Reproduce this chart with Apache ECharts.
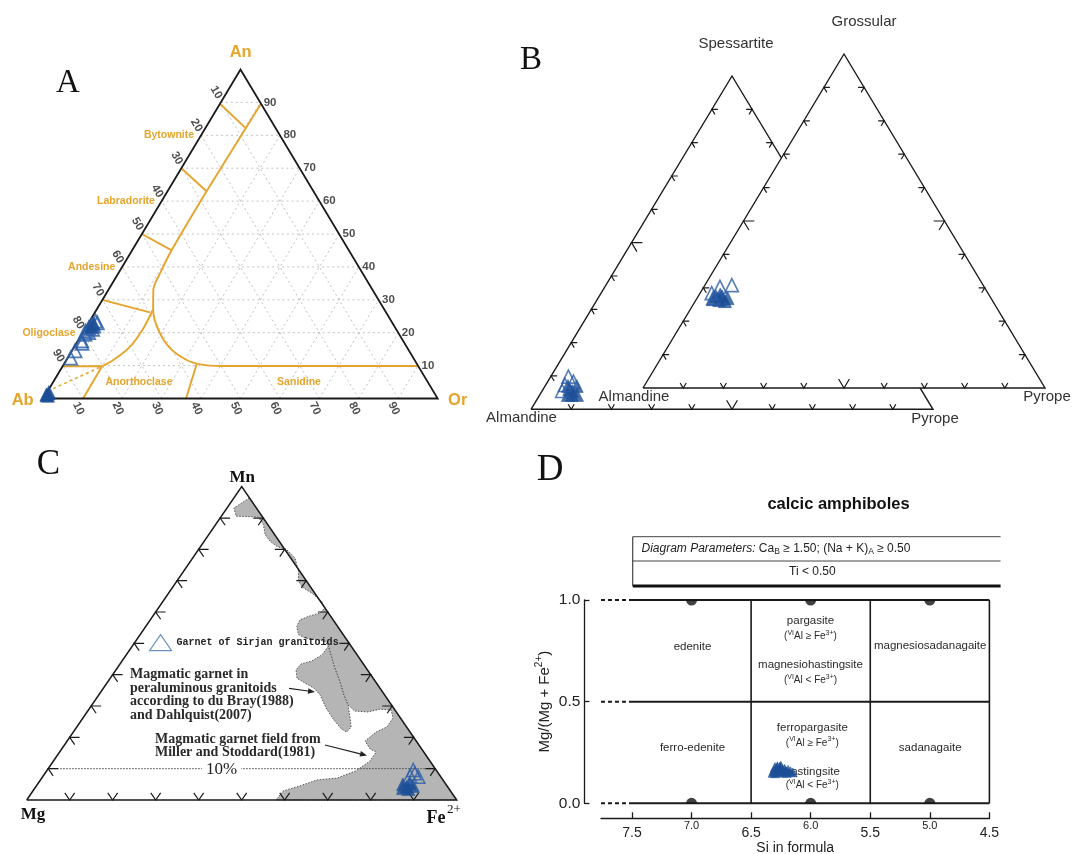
<!DOCTYPE html>
<html>
<head>
<meta charset="utf-8">
<title>Feldspar, garnet and amphibole classification diagrams</title>
<script src="https://cdn.jsdelivr.net/npm/echarts@6.0.0/dist/echarts.min.js"></script>
<style>
html, body { margin: 0; padding: 0; background: #ffffff; }
#chart { width: 1072px; height: 854px; }
</style>
</head>
<body>
<div id="chart"></div>
<script>
// ---------------- data ----------------
// Ternary points are stored as [top, right] in percent; left = 100 - top - right.
const tickPercents = [10, 20, 30, 40, 50, 60, 70, 80, 90];

// A. Feldspar An-Ab-Or, points as [An, Or]
const feldsparOpen = [[23.5, 1.5], [23.0, 2.2], [22.5, 1.0], [22.0, 1.8], [21.5, 0.8], [21.0, 2.0],
  [20.5, 0.5], [20.0, 1.5], [19.5, 0.8], [17.5, 1.0], [16.8, 1.4], [14.5, 0.8], [12.3, 0.8]];
const feldsparFilled = [[1.0, 0.3], [1.5, 0.6], [0.8, 0.8], [2.0, 0.4], [1.2, 0.2], [22.8, 1.4], [21.8, 1.2]];
// feldspar field boundaries, [An, Or]
const feldsparSolvus = [[89.5, 10.4], [63, 9.9], [45, 10.0], [39, 10.5], [33, 11.4], [26.9, 14.4],
  [20.8, 18.8], [15.3, 24.5], [11.7, 30.5], [10.3, 35], [9.9, 40], [9.9, 90.1]];
const anorthoclaseCurve = [[26.9, 14.3], [21.3, 14.7], [15.7, 14.1], [11.7, 11.9], [9.8, 10.0]];
const feldsparLines = [
  [[89.6, 0], [82.4, 9.9]],
  [[70, 0], [62.9, 10]],
  [[50, 0], [45.1, 9.9]],
  [[30, 0], [26.2, 13.9]],
  [[9.8, 0], [9.8, 10]],
  [[9.8, 10], [0, 10.1]],
  [[10.7, 33.6], [0, 36.2]]
];
const feldsparTieLine = [[3, 1], [9.8, 10]];

// B. Garnet end-members (mol %)
// Almandine-Spessartite-Pyrope, points as [Sps, Prp]
const garnetSpsOpen = [[9.8, 4.4], [7.3, 4.8], [8.3, 6.4], [5.5, 5.0]];
const garnetSpsFilled = [[7.0, 5.7], [7.0, 7.9], [5.5, 7.5], [4.3, 7.0], [4.3, 9.3], [4.3, 8.0], [6.0, 6.5]];
// Almandine-Grossular-Pyrope, points as [Grs, Prp]
const garnetGrsOpen = [[30.8, 6.7], [30.3, 4.0], [28.4, 2.9], [26.9, 4.0]];
const garnetGrsFilled = [[27.5, 4.4], [27.5, 5.9], [26.9, 7.6], [26.3, 5.8], [26.0, 7.4], [26.6, 4.1], [28.0, 5.2]];

// C. Mn-Mg-Fe2+, points as [Mn, Fe]
const garnetMnOpen = [[9.6, 85.1], [7.4, 87.4], [7.7, 85.3], [8.5, 86.0]];
const garnetMnFilled = [[5.4, 86.4], [4.2, 86.3], [4.5, 87.6], [3.8, 85.6], [5.0, 85.0], [3.5, 87.0]];
const millerStoddardField = [[96.4, 3.6], [93.2, 1.6], [90.6, 3.4], [90.3, 8.7], [87.9, 11.1], [84.7, 13.1],
  [82.6, 15.3], [81.0, 17.6], [79.9, 20.5], [77.2, 23.8], [73.0, 26.7], [69.8, 28.3], [67.7, 30.5],
  [66.1, 33.2], [63.4, 36.9], [61.3, 38.7], [59.7, 38.4], [58.6, 36.2], [57.5, 34.8], [55.4, 35.1],
  [52.8, 36.8], [51.7, 38.9], [51.2, 41.8], [50.7, 44.0], [49.1, 45.6], [46.3, 47.6], [42.1, 50.6],
  [37.7, 54.0], [33.5, 57.0], [30.3, 59.6], [28.4, 62.1], [28.1, 65.3], [29.0, 67.7], [28.7, 70.4],
  [26.2, 72.1], [23.3, 72.1], [21.7, 70.4], [18.8, 69.3], [16.3, 71.7], [15.3, 73.6], [12.4, 73.6],
  [9.3, 71.9], [7.0, 68.7], [6.4, 64.3], [4.5, 61.3], [2.9, 58.2], [0, 58.0], [0, 100]];
const duBrayField = [[49.1, 45.6], [46.3, 45.5], [44.4, 44.1], [43.4, 42.1], [41.5, 41.9], [38.9, 43.4],
  [37.3, 46.1], [35.7, 49.0], [33.5, 51.5], [29.4, 54.9], [25.9, 58.3], [22.7, 61.8], [21.7, 63.6],
  [23.3, 63.8], [26.2, 62.1], [30.3, 59.6], [33.5, 57.0], [37.7, 54.0], [42.1, 50.6], [46.3, 47.6]];
const mnReferenceLevel = 10;

// D. Calcic amphiboles: Si (apfu) and Mg/(Mg + Fe2+)
const amphSi = [6.32, 6.31, 6.29, 6.28, 6.26, 6.25, 6.24, 6.22, 6.21, 6.19, 6.17, 6.15, 6.27, 6.23, 6.20, 6.30, 6.25, 6.26, 6.28, 6.30];
const amphMgNo = [0.150, 0.160, 0.165, 0.175, 0.180, 0.172, 0.165, 0.170, 0.160, 0.165, 0.158, 0.152, 0.155, 0.150, 0.150, 0.148, 0.185, 0.160, 0.182, 0.178];
const siTicks = [4.5, 5.0, 5.5, 6.0, 6.5, 7.0, 7.5];
const siBoundaries = [6.5, 5.5, 4.5];
const mgBoundaries = [0, 0.5, 1];
const siPlotStart = 7.5;
const siAxisEnd = 7.76;
const endMemberSi = [7.0, 6.0, 5.0];

// ---------------- helpers ----------------
const FONT_SANS = '"Liberation Sans", Arial, Helvetica, sans-serif';
const FONT_SERIF = '"Liberation Serif", "Times New Roman", serif';
const FONT_MONO = '"Liberation Mono", "Courier New", monospace';
const ORANGE = '#e5a52d';
const BLUE = '#1c4f96';
const BLUE_OPEN = '#2a5ca6';
const INK = '#1a1a1a';

// [top, right] percent -> plot x/y (x = right + top / 2, y = top)
const tern = p => [p[1] + p[0] / 2, p[0]];
const CORNERS = [[0, 0], [100, 0], [0, 100], [0, 0]].map(tern);

function segSeries(gi, segs, lineStyle, z) {
  return { type: 'lines', coordinateSystem: 'cartesian2d', xAxisIndex: gi, yAxisIndex: gi,
    polyline: true, silent: true, clip: false, z: z,
    lineStyle: Object.assign({ opacity: 1, curveness: 0 }, lineStyle),
    data: segs.map(s => ({ coords: s })) };
}
function curveSeries(gi, pts, lineStyle, z) {
  return { type: 'line', xAxisIndex: gi, yAxisIndex: gi, data: pts, smooth: 0.3, symbol: 'none',
    silent: true, clip: false, z: z, lineStyle: Object.assign({ opacity: 1 }, lineStyle) };
}
function markerSeries(gi, pts, opts) {
  return Object.assign({ type: 'scatter', xAxisIndex: gi, yAxisIndex: gi, data: pts, symbol: 'triangle',
    silent: true, clip: false }, opts);
}
function polySeries(gi, pts, style, z) {
  return { type: 'custom', coordinateSystem: 'cartesian2d', xAxisIndex: gi, yAxisIndex: gi,
    silent: true, clip: false, z: z, data: [[50, 50]],
    renderItem: (params, api) => ({ type: 'polygon', shape: { points: pts.map(p => api.coord(p)) }, style: style }) };
}
// short grid-line stubs at every tick on the three edges of a ternary frame
function chevronTicks(len, bigLen) {
  const segs = [];
  tickPercents.forEach(f => {
    const d = f === 50 ? bigLen : len;
    segs.push([[f, d], [f, 0], [f - d, d]].map(tern));
    segs.push([[f, 100 - f - d], [f, 100 - f], [f - d, 100 - f]].map(tern));
    segs.push([[d, f - d], [0, f], [d, f]].map(tern));
  });
  return segs;
}
const openStyle = (size, w) => ({ symbolSize: size, itemStyle: { color: 'rgba(255,255,255,0)', borderColor: BLUE_OPEN, borderWidth: w } });
const filledStyle = size => ({ symbolSize: size, itemStyle: { color: BLUE, borderColor: BLUE, borderWidth: 0.6 } });

// ---------------- layout ----------------
const gridBoxes = [
  { left: 43.3, top: 69.5, width: 394.4, height: 329 },     // A
  { left: 531, top: 76, width: 402, height: 333.3 },        // B, Alm-Sps-Prp
  { left: 643, top: 54, width: 402, height: 334 },          // B, Alm-Grs-Prp
  { left: 26.7, top: 486.7, width: 430, height: 313.3 },    // C
  { left: 601, top: 600, width: 388.4, height: 203.3 }      // D
];
const ternAxis = i => ({ gridIndex: i, type: 'value', min: 0, max: 100, show: false });

// ---------------- A ----------------
const feldsparGrid = [];
tickPercents.forEach(c => {
  feldsparGrid.push([[c, 0], [c, 100 - c]].map(tern));
  feldsparGrid.push([[0, c], [100 - c, c]].map(tern));
  feldsparGrid.push([[0, 100 - c], [100 - c, 0]].map(tern));
});
const tickLabelStyle = { show: true, fontSize: 11.5, fontWeight: 'bold', color: '#222', fontFamily: FONT_SANS };
const seriesA = [
  segSeries(0, feldsparGrid, { color: '#c2c2c2', width: 1, type: [2, 3] }, 1),
  segSeries(0, feldsparLines.map(s => s.map(tern)), { color: ORANGE, width: 1.9 }, 2),
  curveSeries(0, feldsparSolvus.map(tern), { color: ORANGE, width: 1.9 }, 2),
  curveSeries(0, anorthoclaseCurve.map(tern), { color: ORANGE, width: 1.9 }, 2),
  segSeries(0, [feldsparTieLine.map(tern)], { color: ORANGE, width: 1.6, type: [3, 3] }, 2),
  segSeries(0, [CORNERS], { color: INK, width: 1.8 }, 3),
  markerSeries(0, feldsparOpen.map(tern), Object.assign({ z: 4 }, openStyle(13, 1.8))),
  markerSeries(0, feldsparFilled.map(tern), Object.assign({ z: 4 }, filledStyle(13))),
  // Ab % along the An-Ab edge (offset is given in the rotated label frame)
  { type: 'scatter', xAxisIndex: 0, yAxisIndex: 0, symbolSize: 1, silent: true, clip: false, z: 6,
    itemStyle: { color: 'rgba(0,0,0,0)' },
    data: tickPercents.map(v => tern([100 - v, 0])),
    label: Object.assign({ position: 'inside', offset: [-10.9, -1.1], rotate: -60,
      formatter: p => String(tickPercents[p.dataIndex]) }, tickLabelStyle) },
  // An % along the An-Or edge
  { type: 'scatter', xAxisIndex: 0, yAxisIndex: 0, symbolSize: 1, silent: true, clip: false, z: 6,
    itemStyle: { color: 'rgba(0,0,0,0)' },
    data: tickPercents.map(v => tern([v, 100 - v])),
    label: Object.assign({ position: 'right', distance: 3,
      formatter: p => String(tickPercents[p.dataIndex]) }, tickLabelStyle) },
  // Or % along the Ab-Or base
  { type: 'scatter', xAxisIndex: 0, yAxisIndex: 0, symbolSize: 1, silent: true, clip: false, z: 6,
    itemStyle: { color: 'rgba(0,0,0,0)' },
    data: tickPercents.map(v => tern([0, v])),
    label: Object.assign({ position: 'inside', offset: [7.2, 8.2], rotate: -65,
      formatter: p => String(tickPercents[p.dataIndex]) }, tickLabelStyle) }
];

// ---------------- B ----------------
const seriesB = [
  segSeries(1, [CORNERS], { color: INK, width: 1.4 }, 2),
  segSeries(1, chevronTicks(1.5, 2.7), { color: INK, width: 1.2 }, 2),
  markerSeries(1, garnetSpsFilled.map(tern), Object.assign({ z: 3 }, filledStyle(13))),
  markerSeries(1, garnetSpsOpen.map(tern), Object.assign({ z: 3 }, openStyle(13, 1.6))),
  polySeries(2, CORNERS.slice(0, 3), { fill: '#ffffff' }, 4),
  segSeries(2, [CORNERS], { color: INK, width: 1.4 }, 5),
  segSeries(2, chevronTicks(1.5, 2.7), { color: INK, width: 1.2 }, 5),
  markerSeries(2, garnetGrsFilled.map(tern), Object.assign({ z: 6 }, filledStyle(13))),
  markerSeries(2, garnetGrsOpen.map(tern), Object.assign({ z: 6 }, openStyle(13, 1.6)))
];

// ---------------- C ----------------
const fieldStyle = { fill: '#b5b5b5', stroke: '#555', lineWidth: 1, lineDash: [1.5, 1.5] };
const seriesC = [
  polySeries(3, millerStoddardField.map(tern), fieldStyle, 1),
  polySeries(3, duBrayField.map(tern), fieldStyle, 1),
  segSeries(3, [[[mnReferenceLevel, 0], [mnReferenceLevel, 100 - mnReferenceLevel]].map(tern)],
    { color: '#444', width: 1, type: [1.5, 1.5] }, 2),
  segSeries(3, [CORNERS], { color: INK, width: 1.5 }, 3),
  segSeries(3, chevronTicks(2.3, 2.3), { color: INK, width: 1.2 }, 3),
  markerSeries(3, garnetMnFilled.map(tern), Object.assign({ z: 4 }, filledStyle(13))),
  markerSeries(3, garnetMnOpen.map(tern), Object.assign({ z: 4, name: 'Garnet of Sirjan granitoids' }, openStyle(13, 1.5)))
];

// ---------------- D ----------------
const seriesD = [
  segSeries(4, mgBoundaries.map(y => [[siPlotStart, y], [siBoundaries[2], y]]), { color: INK, width: 2 }, 2),
  segSeries(4, mgBoundaries.map(y => [[siAxisEnd, y], [siPlotStart, y]]), { color: INK, width: 2, type: [4, 3] }, 2),
  segSeries(4, siBoundaries.map(x => [[x, 0], [x, 1]]), { color: INK, width: 1.6 }, 2),
  { type: 'scatter', xAxisIndex: 4, yAxisIndex: 4, silent: true, clip: false, z: 3,
    symbol: 'path://M0,0 A10,10 0 0,0 20,0 Z', symbolSize: [11, 5.5], symbolOffset: [0, 2.75],
    itemStyle: { color: '#111' }, data: endMemberSi.map(x => [x, 1]) },
  { type: 'scatter', xAxisIndex: 4, yAxisIndex: 4, silent: true, clip: false, z: 3,
    symbol: 'path://M0,10 A10,10 0 0,1 20,10 Z', symbolSize: [11, 5.5], symbolOffset: [0, -2.75],
    itemStyle: { color: '#111' }, data: endMemberSi.map(x => [x, 0]) },
  markerSeries(4, amphSi.map((s, i) => [s, amphMgNo[i]]), Object.assign({ z: 4 }, filledStyle(9)))
];

// ---------------- annotations ----------------
function txt(x, y, text, style, z) {
  return { type: 'text', x: x, y: y, z: z === undefined ? 100 : z, silent: true,
    style: Object.assign({ text: text, align: 'center', verticalAlign: 'middle', fill: '#222',
      fontFamily: FONT_SANS, fontSize: 12 }, style) };
}
function gline(x1, y1, x2, y2, stroke, w) {
  return { type: 'line', z: 100, silent: true, shape: { x1: x1, y1: y1, x2: x2, y2: y2 },
    style: { stroke: stroke, lineWidth: w } };
}
function arrow(x1, y1, x2, y2) {
  const dx = x2 - x1, dy = y2 - y1, L = Math.hypot(dx, dy), ux = dx / L, uy = dy / L;
  const bx = x2 - 7 * ux, by = y2 - 7 * uy;
  return [gline(x1, y1, bx, by, '#222', 1.2),
    { type: 'polygon', z: 100, silent: true,
      shape: { points: [[x2, y2], [bx - 2.8 * uy, by + 2.8 * ux], [bx + 2.8 * uy, by - 2.8 * ux]] },
      style: { fill: '#222' } }];
}
const panelLetter = { fontFamily: FONT_SERIF, fontSize: 33, fill: '#111' };
const orangeBold = { fill: ORANGE, fontWeight: 'bold', fontSize: 10.5 };
const vertexOrange = { fill: ORANGE, fontWeight: 'bold', fontSize: 16.5 };
const garnetName = { fill: '#333', fontSize: 15 };
const serifBold = { fontFamily: FONT_SERIF, fontWeight: 'bold', fontSize: 17, fill: '#111' };
const noteStyle = { fontFamily: FONT_SERIF, fontWeight: 'bold', fontSize: 14, fill: '#2a2a2a', align: 'left' };
const cellStyle = { fontSize: 11.5, fill: '#2a2a2a' };
const supRich = {
  n: { fontSize: 10, fontFamily: FONT_SANS, fill: '#2a2a2a', lineHeight: 14 },
  s: { fontSize: 7, fontFamily: FONT_SANS, fill: '#2a2a2a', verticalAlign: 'top', lineHeight: 9 }
};
const ineqGe = '{n|(}{s|VI}{n|Al \u2265 Fe}{s|3+}{n|)}';
const ineqLt = '{n|(}{s|VI}{n|Al < Fe}{s|3+}{n|)}';

const graphics = [
  // A
  txt(68, 83, 'A', panelLetter),
  txt(240.7, 52, 'An', vertexOrange), txt(22.7, 400, 'Ab', vertexOrange), txt(457.7, 400, 'Or', vertexOrange),
  txt(169, 135, 'Bytownite', orangeBold), txt(126, 200.7, 'Labradorite', orangeBold),
  txt(91.7, 266.7, 'Andesine', orangeBold), txt(49, 333.3, 'Oligoclase', orangeBold),
  txt(139, 381.7, 'Anorthoclase', orangeBold), txt(299, 381.7, 'Sanidine', orangeBold),
  // B
  txt(531, 60, 'B', panelLetter),
  txt(736, 44, 'Spessartite', garnetName), txt(864, 22, 'Grossular', garnetName),
  txt(521.5, 418, 'Almandine', garnetName), txt(634, 397, 'Almandine', garnetName),
  txt(935, 418.5, 'Pyrope', garnetName), txt(1047, 397, 'Pyrope', garnetName),
  // C
  txt(48.3, 465, 'C', Object.assign({}, panelLetter, { fontSize: 35 })),
  txt(242.3, 478, 'Mn', serifBold), txt(33, 815, 'Mg', serifBold),
  txt(436, 818, 'Fe', Object.assign({}, serifBold, { fontSize: 18 })),
  txt(454, 810, '2+', Object.assign({}, serifBold, { fontSize: 13, fontWeight: 'normal' })),
  txt(221.5, 770, '10%', { fontFamily: FONT_SERIF, fontSize: 17, fill: '#222', backgroundColor: '#ffffff', padding: [0, 4] }),
  txt(130, 674.3, 'Magmatic garnet in', noteStyle),
  txt(130, 688.3, 'peraluminous granitoids', noteStyle),
  txt(130, 701.7, 'according to du Bray(1988)', noteStyle),
  txt(130, 715, 'and Dahlquist(2007)', noteStyle),
  txt(155, 739.3, 'Magmatic garnet field from', noteStyle),
  txt(155, 752.7, 'Miller and Stoddard(1981)', noteStyle),
  ...arrow(289, 688.3, 315, 692),
  ...arrow(325, 745, 367, 755.5),
  // D
  txt(550, 470, 'D', Object.assign({}, panelLetter, { fontSize: 37 })),
  txt(838.5, 504.3, 'calcic amphiboles', { fontWeight: 'bold', fontSize: 16.5, fill: '#111' }),
  gline(632.7, 536.7, 1000.6, 536.7, '#444', 1),
  gline(632.7, 561, 1000.6, 561, '#444', 1),
  gline(632.7, 586, 1000.6, 586, '#111', 3),
  gline(632.7, 536.7, 632.7, 586, '#444', 1.2),
  txt(641.5, 548.6, '{i|Diagram Parameters:} {r|Ca}{b|B}{r| \u2265 1.50; (Na + K)}{b|A}{r| \u2265 0.50}', {
    align: 'left',
    rich: {
      i: { fontStyle: 'italic', fontSize: 12, fontFamily: FONT_SANS, fill: '#222', lineHeight: 16 },
      r: { fontSize: 12, fontFamily: FONT_SANS, fill: '#222', lineHeight: 16 },
      b: { fontSize: 8.5, fontFamily: FONT_SANS, fill: '#222', verticalAlign: 'bottom', lineHeight: 11 }
    } }),
  txt(812.3, 572, 'Ti < 0.50', { fontSize: 12 }),
  txt(692.5, 646.7, 'edenite', cellStyle, 1),
  txt(810.5, 621, 'pargasite', cellStyle, 1),
  txt(810.5, 636.5, ineqGe, { rich: supRich }, 1),
  txt(810.5, 665, 'magnesiohastingsite', cellStyle, 1),
  txt(810.5, 680.5, ineqLt, { rich: supRich }, 1),
  txt(930.2, 646, 'magnesiosadanagaite', cellStyle, 1),
  txt(692.5, 748.3, 'ferro-edenite', cellStyle, 1),
  txt(812.3, 728.3, 'ferropargasite', cellStyle, 1),
  txt(812.3, 743, ineqGe, { rich: supRich }, 1),
  txt(812.3, 771.7, 'hastingsite', cellStyle, 1),
  txt(812.3, 785.5, ineqLt, { rich: supRich }, 1),
  txt(930.2, 748.3, 'sadanagaite', cellStyle, 1)
];

// ---------------- option ----------------
const option = {
  animation: false,
  backgroundColor: '#ffffff',
  grid: gridBoxes.map(g => Object.assign({ show: false, containLabel: false, outerBoundsMode: 'none' }, g)),
  xAxis: [ternAxis(0), ternAxis(1), ternAxis(2), ternAxis(3), {
    gridIndex: 4, type: 'value', inverse: true, min: siBoundaries[2], max: siAxisEnd, position: 'bottom', offset: 15,
    axisLine: { show: true, onZero: false, lineStyle: { color: INK, width: 1.3 } },
    axisTick: { show: true, inside: true, length: 6, customValues: siTicks, lineStyle: { color: INK, width: 1.3 } },
    axisLabel: { show: true, customValues: siTicks, margin: 2,
      formatter: v => (Math.round(v * 2) % 2 === 1 ? '{big|' : '{small|') + v.toFixed(1) + '}',
      rich: {
        big: { fontSize: 14, fontFamily: FONT_SANS, color: '#222', padding: [6, 0, 0, 0] },
        small: { fontSize: 11, fontFamily: FONT_SANS, color: '#222' }
      } },
    splitLine: { show: false },
    name: 'Si in formula', nameLocation: 'middle', nameGap: 23,
    nameTextStyle: { fontSize: 14, fontFamily: FONT_SANS, color: '#222' }
  }],
  yAxis: [ternAxis(0), ternAxis(1), ternAxis(2), ternAxis(3), {
    gridIndex: 4, type: 'value', min: 0, max: 1, interval: 0.5, position: 'left', offset: 16.6,
    axisLine: { show: true, onZero: false, lineStyle: { color: INK, width: 1.3 } },
    axisTick: { show: true, inside: true, length: 5, lineStyle: { color: INK, width: 1.3 } },
    axisLabel: { margin: 4, formatter: v => v.toFixed(1), fontSize: 15.5, fontFamily: FONT_SANS, color: '#222' },
    splitLine: { show: false },
    name: 'Mg/(Mg + Fe{s|2+})', nameLocation: 'middle', nameRotate: 90, nameGap: 30,
    nameTextStyle: { fontSize: 15, fontFamily: FONT_SANS, color: '#222', lineHeight: 20,
      rich: { s: { fontSize: 10, fontFamily: FONT_SANS, color: '#222', verticalAlign: 'top', lineHeight: 12 } } }
  }],
  legend: {
    data: [{ name: 'Garnet of Sirjan granitoids', icon: 'triangle',
      itemStyle: { color: '#ffffff', borderColor: '#4a78b2', borderWidth: 1.2 } }],
    left: 149, top: 634, itemWidth: 22, itemHeight: 16, padding: 0, selectedMode: false,
    textStyle: { fontFamily: FONT_MONO, fontSize: 10, fontWeight: 'bold', color: '#222' }
  },
  series: [].concat(seriesA, seriesB, seriesC, seriesD),
  graphic: { elements: graphics }
};

const chart = echarts.init(document.getElementById('chart'), null, { renderer: 'canvas' });
chart.setOption(option);
</script>
</body>
</html>
